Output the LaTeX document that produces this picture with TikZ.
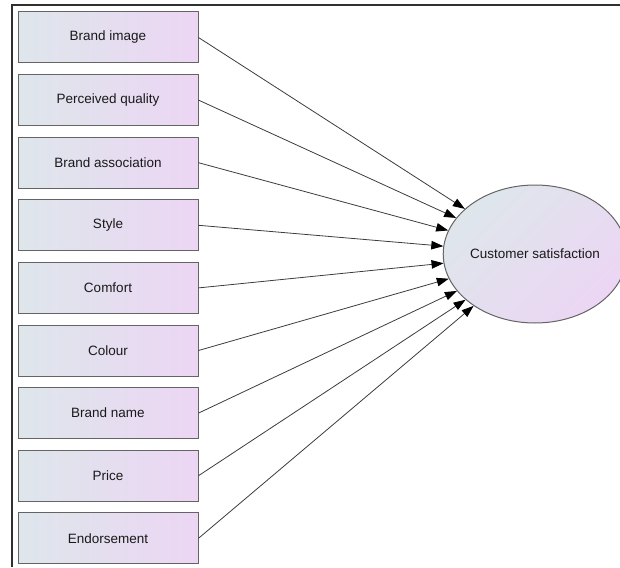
\documentclass[tikz,border=0pt]{standalone}
\usepackage{fontspec}
\setmainfont{Liberation Sans}
\usepackage{tikz}
\usetikzlibrary{arrows.meta,shapes.geometric}
\definecolor{boxleft}{RGB}{222,230,235}
\definecolor{boxright}{RGB}{236,214,244}
\definecolor{edge}{RGB}{100,100,100}
\definecolor{ink}{RGB}{25,25,25}
\tikzset{
  factor/.style={draw=edge,line width=1pt,left color=boxleft,right color=boxright,
    minimum width=180pt,minimum height=51pt,inner sep=0pt,text=ink,
    font=\fontsize{13.5}{16}\selectfont},
  outcome/.style={ellipse,draw=edge,line width=1pt,left color=boxleft,right color=boxright,
    shading angle=45,minimum width=168pt,minimum height=138pt,inner sep=0pt,text=ink,
    font=\fontsize{13.5}{16}\selectfont},
  link/.style={->,draw=ink!85,line width=0.8pt}
}

\begin{document}
\begin{tikzpicture}[x=1pt, y=-1pt, >={Triangle[length=12pt,width=8.5pt,color=black]}, node distance=62.6pt]
        \useasboundingbox (0,0) rectangle (620,567);
        \draw[ink!90,line width=1.5pt] (12,567) -- (12,5) -- (620,5);
        \node[factor] (image) at (108,37.5) {Brand image};
        \node[factor,below of=image] (quality) {Perceived quality};
        \node[factor,below of=quality] (assoc) {Brand association};
        \node[factor,below of=assoc] (stylebox) {Style};
        \node[factor,below of=stylebox] (comfort) {Comfort};
        \node[factor,below of=comfort] (colour) {Colour};
        \node[factor,below of=colour] (bname) {Brand name};
        \node[factor,below of=bname] (price) {Price};
        \node[factor,below of=price] (endorse) {Endorsement};
        \node[outcome] (cs) at (535,254) {Customer satisfaction};
        \draw[link] (image.east)--(cs);
        \draw[link] (quality.east)--(cs);
        \draw[link] (assoc.east)--(cs);
        \draw[link] (stylebox.east)--(cs);
        \draw[link] (comfort.east)--(cs);
        \draw[link] (colour.east)--(cs);
        \draw[link] (bname.east)--(cs);
        \draw[link] (price.east)--(cs);
        \draw[link] (endorse.east)--(cs);
      \end{tikzpicture}
\end{document}
